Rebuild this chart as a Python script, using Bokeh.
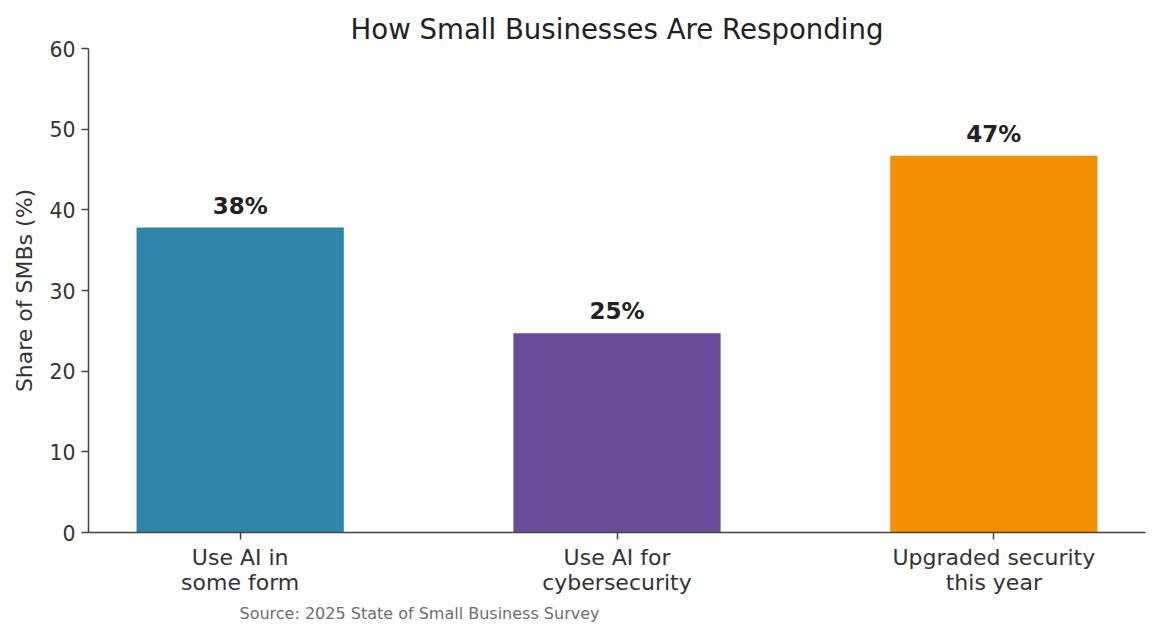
from bokeh.plotting import figure
from bokeh.models import ColumnDataSource, FixedTicker, Range1d, Title, LabelSet
from bokeh.core.properties import value
from bokeh.embed import file_html
from bokeh.resources import INLINE

categories = ["Use AI in\nsome form", "Use AI for\ncybersecurity", "Upgraded security\nthis year"]
values = [37.8, 24.7, 46.7]
labels = ["38%", "25%", "47%"]
colors = ["#2E86AB", "#6A4C9C", "#F28F00"]
y_ticks = [0, 10, 20, 30, 40, 50, 60]

xpos = list(range(len(categories)))
src = ColumnDataSource(dict(x=xpos, top=values, lab=labels, color=colors))

FONT = "DejaVu Sans"
p = figure(width=1160, height=639, output_backend="svg", toolbar_location=None,
           x_range=Range1d(-0.4025, 2.4025), y_range=Range1d(0, 60),
           min_border_left=88, min_border_right=15, min_border_top=48, min_border_bottom=107)

p.title.text = "How Small Businesses Are Responding"
p.title.align = "center"
p.title.text_font = FONT
p.title.text_font_size = "27.6px"
p.title.text_font_style = "normal"
p.title.text_color = "#222222"
p.title.standoff = 6

p.vbar(x="x", top="top", width=0.55, bottom=0, fill_color="color", line_color=None, source=src)

p.add_layout(LabelSet(x="x", y="top", text="lab", source=src, text_align="center",
                      text_baseline="alphabetic", y_offset=14, text_font=value(FONT),
                      text_font_size=value("23px"), text_font_style="bold", text_color="#222222"))

p.xgrid.visible = False
p.ygrid.visible = False
p.outline_line_color = None

for ax in (p.xaxis[0], p.yaxis[0]):
    ax.axis_line_color = "#444444"
    ax.axis_line_width = 1.5
    ax.major_tick_line_color = "#444444"
    ax.major_tick_line_width = 1.5
    ax.major_tick_out = 7
    ax.major_tick_in = 0
    ax.minor_tick_line_color = None
    ax.major_label_text_font = FONT
    ax.major_label_text_color = "#333333"

p.xaxis.ticker = FixedTicker(ticks=xpos)
p.xaxis.major_label_overrides = {i: c for i, c in enumerate(categories)}
p.xaxis.major_label_text_font_size = "22px"
p.xaxis.major_label_text_line_height = 1.0
p.xaxis.major_label_standoff = 5

p.yaxis.ticker = FixedTicker(ticks=y_ticks)
p.yaxis.major_label_text_font_size = "20.5px"
p.yaxis.major_label_standoff = 6
p.yaxis.axis_label = "Share of SMBs (%)"
p.yaxis.axis_label_text_font = FONT
p.yaxis.axis_label_text_font_size = "22px"
p.yaxis.axis_label_text_font_style = "normal"
p.yaxis.axis_label_text_color = "#333333"
p.yaxis.axis_label_standoff = 9

src_title = Title(text="Source: 2025 State of Small Business Survey", align="left", offset=151,
                  text_font=FONT, text_font_size="16px", text_font_style="normal",
                  text_color="#6e6e6e", standoff=8)
p.add_layout(src_title, "below")

open("out.html", "w").write(file_html(p, INLINE))
